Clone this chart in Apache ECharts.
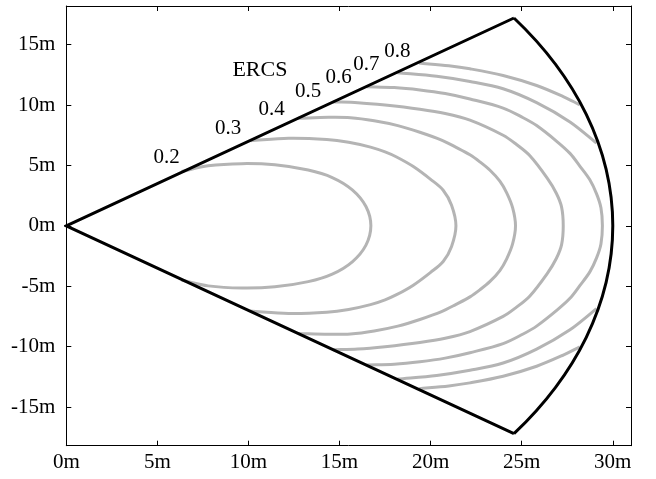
<!DOCTYPE html>
<html><head><meta charset="utf-8">
<script src="https://cdn.jsdelivr.net/npm/echarts@6/dist/echarts.min.js"></script>
<style>html,body{margin:0;padding:0;background:#fff}#c{width:656px;height:479px}</style>
</head><body><div id="c"></div>
<script>
// ---- data (metres) ----
const levels = ['0.2', '0.3', '0.4', '0.5', '0.6', '0.7', '0.8'];
// upper half of each ERCS contour, [x, y]; the lower half is its mirror image
const c02 = [[6.33,4.50],[7.79,4.97],[9.63,5.15],[11.45,5.05],[13.28,4.62],[14.6,4.0],[15.7,2.98],[16.45,1.6],[16.72,0]];
const c03 = [[10.1,7.05],[12.2,7.25],[14.3,7.15],[15.5,6.92],[16.7,6.52],[17.5,6.12],[18.13,5.7],[19.05,4.91],[20.0,3.85],[20.69,2.95],[21.15,1.7],[21.39,0]];
const c04 = [[12.72,8.91],[14.4,8.98],[15.6,8.95],[16.9,8.7],[18.2,8.3],[19.41,7.75],[20.6,7.1],[21.4,6.5],[22.16,5.88],[22.7,5.3],[23.26,4.6],[23.8,3.7],[24.17,2.75],[24.5,1.5],[24.66,0]];
const c05 = [[14.65,10.26],[16.0,10.2],[17.5,10.0],[19.41,9.65],[20.8,9.3],[22.16,8.75],[23.98,7.5],[24.7,6.75],[25.45,5.8],[26.4,3.95],[26.9,2.7],[27.19,1.55],[27.28,0]];
const c06 = [[16.48,11.52],[18.0,11.45],[19.41,11.25],[20.8,10.95],[22.16,10.5],[23.98,9.75],[25.08,8.95],[25.82,8.3],[26.92,7.0],[27.65,6.0],[28.19,4.95],[28.74,3.81],[29.11,2.65],[29.35,1.5],[29.43,0]];
const c07 = [[18.18,12.68],[20.33,12.38],[22.16,11.95],[23.98,11.35],[25.82,10.2],[27.65,8.6],[29.11,6.85]];
const c08 = [[19.36,13.48],[21.0,13.25],[22.16,13.0],[23.98,12.45],[25.82,11.62],[27.28,10.7],[28.19,10.02]];
const contours = [c02, c03, c04, c05, c06, c07, c08];
const endsOnArc = [false, false, false, false, false, true, true];
const labelPos = [[5.51,5.69],[8.89,8.09],[11.27,9.67],[13.28,11.13],[14.95,12.30],[16.47,13.37],[18.17,14.44]];
const titleText = 'ERCS';
const titlePos = [10.63, 12.92];
const sectorRange = 30;      // m
const sectorHalfAngle = 35;  // degrees
const xTicks = [0, 5, 10, 15, 20, 25, 30];
const yTicks = [-15, -10, -5, 0, 5, 10, 15];
const xMax = 31, yMin = -18.2, yMax = 18.2;

// ---- chart ----
const FONT = 'Liberation Serif';
const GRAY = '#b4b4b4';
const chart = echarts.init(document.getElementById('c'));

// smooth path through pixel points (tangent-continuous cubic Bezier)
function smoothPath(px) {
  const n = px.length;
  const tan = px.map((p, i) => {
    const a = px[Math.max(0, i - 1)], b = px[Math.min(n - 1, i + 1)];
    const dx = b[0] - a[0], dy = b[1] - a[1], L = Math.hypot(dx, dy) || 1;
    return [dx / L, dy / L];
  });
  let d = 'M' + px[0][0] + ' ' + px[0][1];
  for (let i = 0; i < n - 1; i++) {
    const p = px[i], q = px[i + 1];
    const L = Math.hypot(q[0] - p[0], q[1] - p[1]) / 3;
    d += ' C' + (p[0] + tan[i][0] * L) + ' ' + (p[1] + tan[i][1] * L) + ' ' +
      (q[0] - tan[i + 1][0] * L) + ' ' + (q[1] - tan[i + 1][1] * L) + ' ' + q[0] + ' ' + q[1];
  }
  return d;
}
const paths = [];
contours.forEach((pts, i) => {
  const lower = pts.slice().reverse().map(p => [p[0], -p[1]]);
  if (endsOnArc[i]) { paths.push(pts); paths.push(lower); }
  else paths.push(pts.concat(lower.slice(1)));
});

const series = [];
series.push({type: 'custom', silent: true, z: 2, data: paths.map((p, i) => [i]),
  renderItem: function (params, api) {
    const pts = paths[api.value(0)].map(p => api.coord(p));
    return {type: 'path', shape: {pathData: smoothPath(pts)},
      style: {fill: 'none', stroke: GRAY, lineWidth: 3}};
  }});
const a = sectorHalfAngle * Math.PI / 180;
const tip = [sectorRange * Math.cos(a), sectorRange * Math.sin(a)];
series.push({type: 'line', data: [[tip[0], tip[1]], [0, 0], [tip[0], -tip[1]]], showSymbol: false,
  silent: true, z: 3, lineStyle: {color: '#000', width: 3, join: 'miter'}});
series.push({type: 'custom', data: [[0, 0]], silent: true, z: 3,
  renderItem: function (params, api) {
    const p1 = api.coord([tip[0], tip[1]]);
    const p2 = api.coord([tip[0], -tip[1]]);
    const sz = api.size([sectorRange, sectorRange]);
    return {type: 'path',
      shape: {pathData: 'M' + p1[0] + ' ' + p1[1] + ' A' + sz[0] + ' ' + sz[1] + ' 0 0 1 ' + p2[0] + ' ' + p2[1]},
      style: {fill: 'none', stroke: '#000', lineWidth: 3}};
  }});
const texts = levels.map((l, i) => ({t: l, p: labelPos[i], s: 21})).concat([{t: titleText, p: titlePos, s: 22}]);
series.push({type: 'custom', silent: true, z: 4, data: texts.map((t, i) => [t.p[0], t.p[1], i]),
  renderItem: function (params, api) {
    const t = texts[api.value(2)];
    const c = api.coord([api.value(0), api.value(1)]);
    return {type: 'text', x: c[0], y: c[1],
      style: {text: t.t, fill: '#000', font: t.s + 'px "' + FONT + '"', align: 'center', verticalAlign: 'middle'}};
  }});

function xAxis(pos, labels) {
  return {type: 'value', min: 0, max: xMax, position: pos,
    axisLine: {show: true, onZero: false, lineStyle: {color: '#000', width: 1}},
    axisTick: {show: true, inside: true, length: 5, customValues: xTicks, lineStyle: {color: '#000', width: 1}},
    axisLabel: {show: labels, customValues: xTicks, formatter: v => v + 'm', fontFamily: FONT, fontSize: 21, color: '#000', margin: 6},
    splitLine: {show: false}};
}
function yAxis(pos, labels) {
  return {type: 'value', min: yMin, max: yMax, position: pos,
    axisLine: {show: true, onZero: false, lineStyle: {color: '#000', width: 1}},
    axisTick: {show: true, inside: true, length: 5, customValues: yTicks, lineStyle: {color: '#000', width: 1}},
    axisLabel: {show: labels, customValues: yTicks, formatter: v => v + 'm', fontFamily: FONT, fontSize: 21, color: '#000', margin: 11},
    splitLine: {show: false}};
}
chart.setOption({
  animation: false,
  backgroundColor: '#fff',
  grid: {left: 66.3, right: 25, top: 6, bottom: 33.3},
  xAxis: [xAxis('bottom', true), xAxis('top', false)],
  yAxis: [yAxis('left', true), yAxis('right', false)],
  series: series
});
</script></body></html>
